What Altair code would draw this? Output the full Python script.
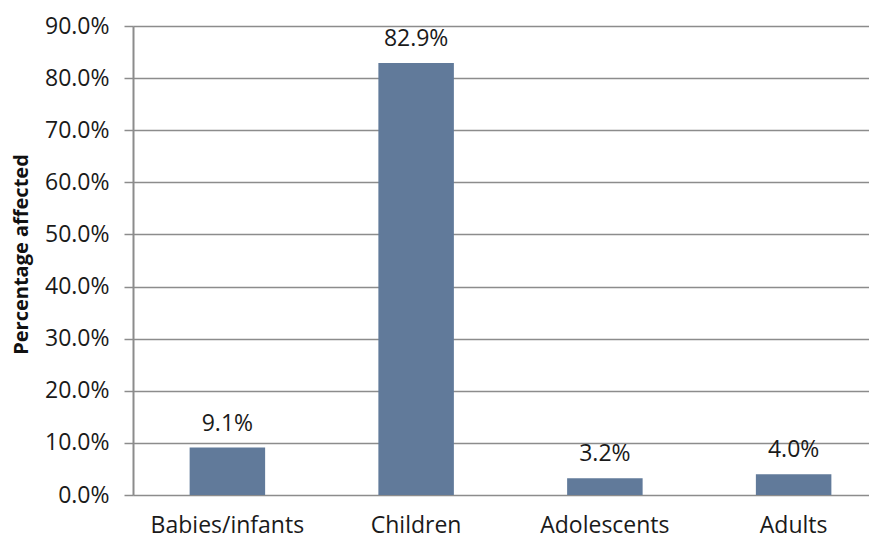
import altair as alt
import pandas as pd

categories = ["Babies/infants", "Children", "Adolescents", "Adults"]
values = [0.091, 0.829, 0.032, 0.040]
labels = ["9.1%", "82.9%", "3.2%", "4.0%"]

df = pd.DataFrame({"group": categories, "value": values, "label": labels})

FONT = "Open Sans"

base = alt.Chart(df).encode(
    x=alt.X("group:N", sort=categories,
            scale=alt.Scale(paddingInner=0.6, paddingOuter=0.3, range=[0, 755]),
            axis=alt.Axis(title=None, labelAngle=0, ticks=False, domain=False,
                          labelFontSize=23, labelFont=FONT, labelColor="#1a1a1a",
                          labelPadding=19)),
    y=alt.Y("value:Q",
            scale=alt.Scale(domain=[0, 0.9], nice=False),
            axis=alt.Axis(title="Percentage  affected", format=".1%",
                          values=[i / 10 for i in range(10)],
                          grid=True, gridColor="#8c8c8c", gridWidth=1.5,
                          domainColor="#8c8c8c", domainWidth=2,
                          tickColor="#8c8c8c", tickSize=9, tickWidth=1.5,
                          labelFontSize=23, labelFont=FONT, labelColor="#1a1a1a",
                          labelPadding=15,
                          titleFont=FONT, titleFontSize=20, titleFontWeight="bold",
                          titleColor="#111111",
                          titleX=-112, titleY=228, titleAngle=270,
                          titleAlign="center", titleBaseline="middle")),
)

bars = base.mark_bar(color="#617a9a")
text = base.mark_text(dy=-17, baseline="alphabetic", fontSize=23, font=FONT,
                      color="#1a1a1a").encode(text="label:N")

chart = (bars + text).properties(
    width=736, height=469,
    autosize=alt.AutoSizeParams(type="none"),
    padding={"left": 125, "top": 18, "right": 0, "bottom": 45},
).configure_view(stroke=None).configure(background="white")

chart.save("out.html", embed_options={"renderer": "svg", "actions": False})
